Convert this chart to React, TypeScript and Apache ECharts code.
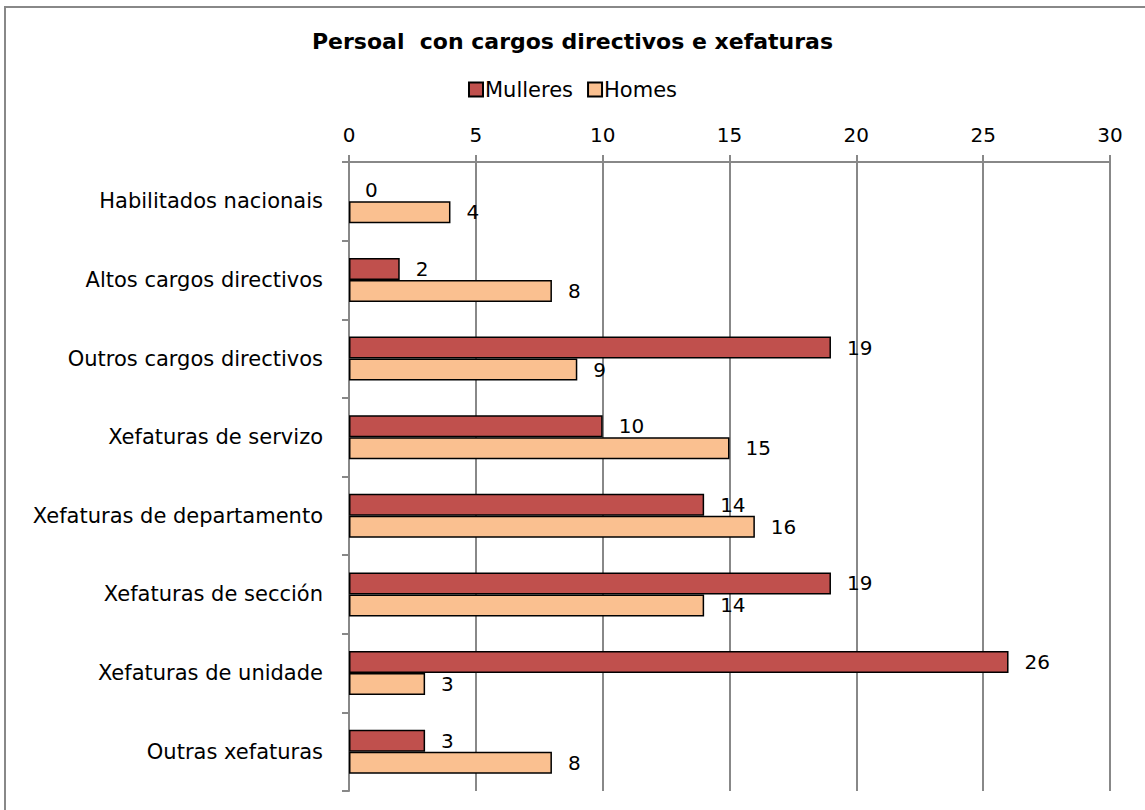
import React, { useEffect, useRef } from "react";
import * as echarts from "echarts";

const categories = [
  "Habilitados nacionais",
  "Altos cargos directivos",
  "Outros cargos directivos",
  "Xefaturas de servizo",
  "Xefaturas de departamento",
  "Xefaturas de sección",
  "Xefaturas de unidade",
  "Outras xefaturas",
];
const mulleres = [0, 2, 19, 10, 14, 19, 26, 3];
const homes = [4, 8, 9, 15, 16, 14, 3, 8];
const seriesNames = ["Mulleres", "Homes"];
const titleText = "Persoal  con cargos directivos e xefaturas";

const FONT = "DejaVu Sans";

const toData = (arr: number[]) =>
  arr.map((v) => (v === 0 ? { value: v, itemStyle: { borderWidth: 0 } } : v));

export default function App() {
  const ref = useRef<HTMLDivElement>(null);
  useEffect(() => {
    if (!ref.current) return;
    const chart = echarts.init(ref.current, undefined, { renderer: "svg" });
    const label = {
      show: true,
      position: "right" as const,
      distance: 16,
      color: "#000",
      fontFamily: FONT,
      fontSize: 20,
    };
    chart.setOption({
      animation: false,
      backgroundColor: "#fff",
      title: {
        text: titleText,
        left: "center",
        top: 25,
        textStyle: { fontFamily: FONT, fontSize: 22, fontWeight: "bold", color: "#000" },
      },
      legend: {
        data: seriesNames,
        top: 74,
        left: "center",
        icon: "rect",
        itemWidth: 14,
        itemHeight: 14,
        itemGap: 14,
        textStyle: { fontFamily: FONT, fontSize: 21, color: "#000", padding: [0, 0, 0, -3] },
      },
      grid: { left: 349, right: 35, top: 162, bottom: 19, containLabel: false },
      xAxis: {
        type: "value",
        position: "top",
        min: 0,
        max: 30,
        interval: 5,
        axisLine: { show: true, lineStyle: { color: "#888", width: 2 } },
        axisTick: { show: true, length: 7, lineStyle: { color: "#888", width: 2 } },
        axisLabel: { fontFamily: FONT, fontSize: 20, color: "#000", margin: 17 },
        splitLine: { show: true, lineStyle: { color: "#888", width: 2 } },
      },
      yAxis: {
        type: "category",
        data: categories,
        inverse: true,
        axisLine: { show: true, lineStyle: { color: "#888", width: 2 } },
        axisTick: { show: true, length: 7, lineStyle: { color: "#888", width: 2 } },
        axisLabel: { fontFamily: FONT, fontSize: 21, color: "#000", margin: 26 },
        splitLine: { show: false },
      },
      series: [
        {
          name: seriesNames[0],
          type: "bar",
          data: toData(mulleres),
          barWidth: 22,
          barGap: "0%",
          itemStyle: { color: "#C0504D", borderColor: "#000", borderWidth: 1.5 },
          label,
        },
        {
          name: seriesNames[1],
          type: "bar",
          data: toData(homes),
          barWidth: 22,
          barGap: "0%",
          itemStyle: { color: "#FAC090", borderColor: "#000", borderWidth: 1.5 },
          label,
        },
      ],
      graphic: [
        {
          type: "rect",
          shape: { x: 5, y: 7, width: 1200, height: 900 },
          style: { fill: "none", stroke: "#888", lineWidth: 2 },
          silent: true,
          z: 100,
        },
      ],
    });
    return () => chart.dispose();
  }, []);
  return (
    <div
      ref={ref}
      style={{ position: "fixed", left: 0, top: 0, width: 1145, height: 810 }}
    />
  );
}
